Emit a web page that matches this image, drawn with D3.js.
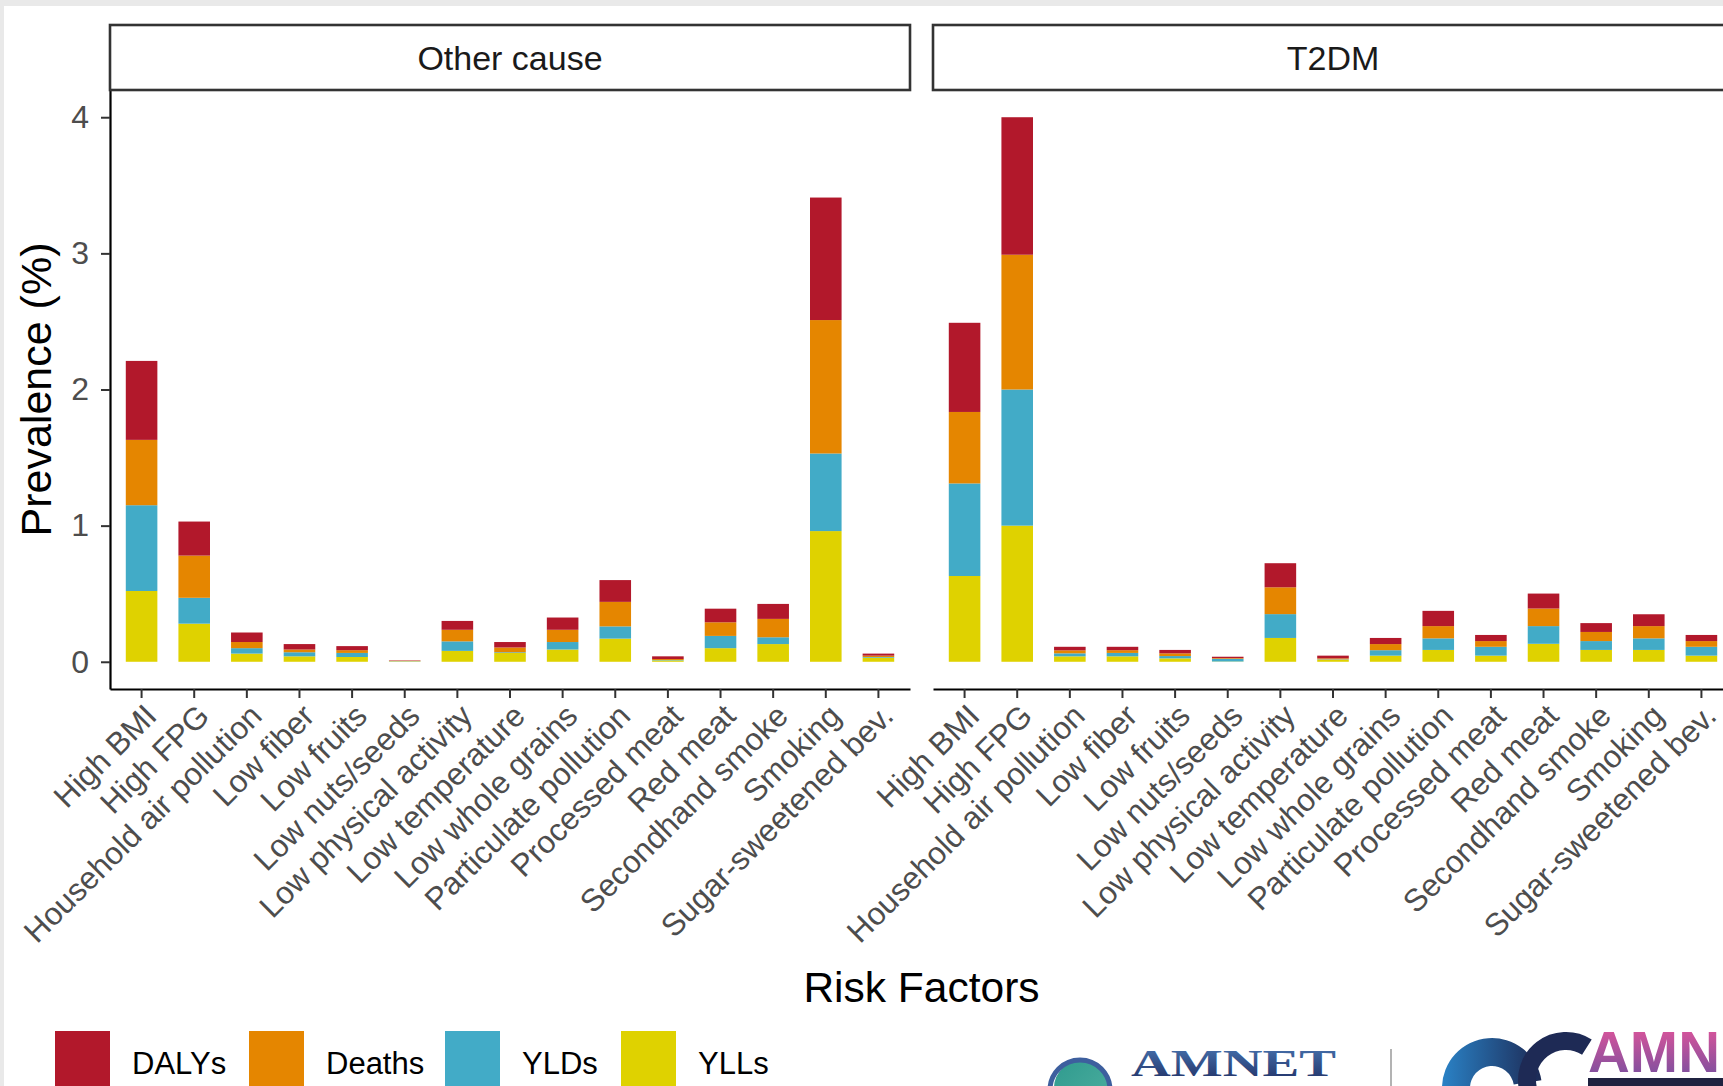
<!DOCTYPE html>
<html>
<head>
<meta charset="utf-8">
<script src="https://cdn.jsdelivr.net/npm/d3@7"></script>
<style>
  html, body { margin: 0; padding: 0; background: #fff; overflow: hidden; }
  text { font-family: "Liberation Sans", Arial, Helvetica, sans-serif; }
</style>
</head>
<body>
<svg id="chart" width="1723" height="1086"></svg>
<script>
// ---- data -----------------------------------------------------------------
const categories = [
  "High BMI", "High FPG", "Household air pollution", "Low fiber", "Low fruits",
  "Low nuts/seeds", "Low physical activity", "Low temperature", "Low whole grains",
  "Particulate pollution", "Processed meat", "Red meat", "Secondhand smoke",
  "Smoking", "Sugar-sweetened bev."
];
const facets = ["Other cause", "T2DM"];
const measures = ["DALYs", "Deaths", "YLDs", "YLLs"];          // legend order
const stackOrder = ["YLLs", "YLDs", "Deaths", "DALYs"];        // bottom to top
const measureColors = ["#B2182B", "#E58600", "#42ABC7", "#DFD200"];
const yTicks = [0, 1, 2, 3, 4];

// Other cause
const yllOther    = [0.52, 0.28, 0.06, 0.04, 0.035, 0.003, 0.08, 0.065, 0.09, 0.17, 0.01, 0.10, 0.13, 0.96, 0.03];
const yldOther    = [0.63, 0.19, 0.04, 0.03, 0.03, 0.002, 0.07, 0.005, 0.055, 0.09, 0.003, 0.09, 0.05, 0.57, 0.005];
const deathsOther = [0.48, 0.31, 0.045, 0.02, 0.02, 0.002, 0.085, 0.035, 0.09, 0.18, 0.007, 0.10, 0.135, 0.98, 0.01];
const dalysOther  = [0.58, 0.25, 0.07, 0.04, 0.03, 0.003, 0.065, 0.04, 0.09, 0.16, 0.02, 0.10, 0.11, 0.90, 0.015];

// T2DM
const yllT2dm    = [0.63, 1.00, 0.04, 0.04, 0.025, 0.002, 0.175, 0.015, 0.045, 0.087, 0.045, 0.132, 0.087, 0.087, 0.045];
const yldT2dm    = [0.68, 1.00, 0.022, 0.025, 0.017, 0.02, 0.175, 0.003, 0.04, 0.085, 0.065, 0.13, 0.065, 0.085, 0.065];
const deathsT2dm = [0.525, 0.99, 0.022, 0.02, 0.02, 0.005, 0.197, 0.007, 0.045, 0.09, 0.042, 0.129, 0.067, 0.09, 0.042];
const dalysT2dm  = [0.655, 1.01, 0.026, 0.025, 0.025, 0.01, 0.177, 0.02, 0.045, 0.112, 0.045, 0.11, 0.065, 0.087, 0.045];

// ---- layout ---------------------------------------------------------------
const W = 1723, H = 1086;
const stripTop = 25, panelTop = 90, panelBottom = 689;
const panelDefs = [
  { name: facets[0], x0: 110, x1: 910,  yll: yllOther, yld: yldOther, deaths: deathsOther, dalys: dalysOther, yAxis: true },
  { name: facets[1], x0: 933, x1: 1733, yll: yllT2dm,  yld: yldT2dm,  deaths: deathsT2dm,  dalys: dalysT2dm,  yAxis: false }
];

const svg = d3.select("#chart");

// page background
svg.append("rect").attr("width", W).attr("height", H).attr("fill", "#e9e9e9");
svg.append("rect").attr("x", 4).attr("y", 6).attr("width", W - 4).attr("height", H - 6).attr("fill", "#ffffff");

const color = d3.scaleOrdinal().domain(measures).range(measureColors);
const y = d3.scaleLinear().domain([-0.2, 4.2]).range([panelBottom, panelTop]);

panelDefs.forEach(p => {
  const rows = categories.map((c, i) => ({
    cat: c, YLLs: p.yll[i], YLDs: p.yld[i], Deaths: p.deaths[i], DALYs: p.dalys[i]
  }));
  const series = d3.stack().keys(stackOrder)(rows);

  const x = d3.scaleBand()
    .domain(categories)
    .range([p.x0, p.x1])
    .paddingInner(0.4)
    .paddingOuter(0.3);

  const g = svg.append("g");

  // bars
  g.selectAll("g.layer")
    .data(series)
    .join("g")
      .attr("class", "layer")
      .attr("fill", d => color(d.key))
    .selectAll("rect")
    .data(d => d)
    .join("rect")
      .attr("x", d => x(d.data.cat))
      .attr("width", x.bandwidth())
      .attr("y", d => y(d[1]))
      .attr("height", d => Math.max(0, y(d[0]) - y(d[1])));

  // x axis
  const xg = g.append("g")
    .attr("transform", `translate(0,${panelBottom})`)
    .call(d3.axisBottom(x).tickSize(9).tickSizeOuter(0));
  xg.select(".domain").attr("stroke", "#000").attr("stroke-width", 2.2);
  xg.selectAll(".tick line").attr("stroke", "#333").attr("stroke-width", 2);
  xg.selectAll(".tick text")
    .attr("fill", "#4d4d4d")
    .attr("font-size", 31.5)
    .attr("x", 0).attr("y", 0).attr("dy", "0.71em")
    .attr("text-anchor", "end")
    .attr("transform", "translate(1,13) rotate(-45)");

  // y axis (left panel only)
  if (p.yAxis) {
    const yg = g.append("g")
      .attr("transform", `translate(${p.x0},0)`)
      .call(d3.axisLeft(y).tickValues(yTicks).tickFormat(d3.format("d"))
        .tickSize(9).tickSizeOuter(0).tickPadding(12));
    yg.select(".domain").attr("stroke", "#000").attr("stroke-width", 2.2);
    yg.selectAll(".tick line").attr("stroke", "#333").attr("stroke-width", 2);
    yg.selectAll(".tick text").attr("fill", "#4d4d4d").attr("font-size", 32);
  }

  // facet strip
  g.append("rect")
    .attr("x", p.x0).attr("y", stripTop)
    .attr("width", p.x1 - p.x0).attr("height", panelTop - stripTop)
    .attr("fill", "#fff").attr("stroke", "#333").attr("stroke-width", 2.6);
  g.append("text")
    .attr("x", (p.x0 + p.x1) / 2).attr("y", (stripTop + panelTop) / 2)
    .attr("dy", "0.36em")
    .attr("text-anchor", "middle")
    .attr("font-size", 34)
    .attr("fill", "#1a1a1a")
    .text(p.name);
});

// axis titles
svg.append("text")
  .attr("transform", `translate(36,${(panelTop + panelBottom) / 2}) rotate(-90)`)
  .attr("text-anchor", "middle").attr("dy", "0.36em")
  .attr("font-size", 43).attr("fill", "#000")
  .text("Prevalence (%)");
svg.append("text")
  .attr("x", (panelDefs[0].x0 + panelDefs[1].x1) / 2).attr("y", 987)
  .attr("text-anchor", "middle").attr("dy", "0.36em")
  .attr("font-size", 42.5).attr("fill", "#000")
  .text("Risk Factors");

// legend
const legendX = [55, 249, 445, 621];
const legend = svg.append("g");
measures.forEach((m, i) => {
  legend.append("rect")
    .attr("x", legendX[i]).attr("y", 1031)
    .attr("width", 55).attr("height", 55)
    .attr("fill", color(m));
  legend.append("text")
    .attr("x", legendX[i] + 77).attr("y", 1063)
    .attr("dy", "0.36em")
    .attr("font-size", 31).attr("fill", "#000")
    .text(m);
});

// footer logos
const defs = svg.append("defs");
const g1 = defs.append("linearGradient").attr("id", "amnetText").attr("x1", 0).attr("y1", 0).attr("x2", 0).attr("y2", 1);
g1.append("stop").attr("offset", "0%").attr("stop-color", "#4a78b4");
g1.append("stop").attr("offset", "100%").attr("stop-color", "#1f2e63");
const g2 = defs.append("linearGradient").attr("id", "amnPink").attr("x1", 0).attr("y1", 0).attr("x2", 0).attr("y2", 1);
g2.append("stop").attr("offset", "0%").attr("stop-color", "#e8559a");
g2.append("stop").attr("offset", "100%").attr("stop-color", "#6f4f9f");
const g3 = defs.append("linearGradient").attr("id", "arcBlue").attr("x1", 0).attr("y1", 0).attr("x2", 1).attr("y2", 0);
g3.append("stop").attr("offset", "0%").attr("stop-color", "#2a82c6");
g3.append("stop").attr("offset", "100%").attr("stop-color", "#1d2a55");
const g4 = defs.append("linearGradient").attr("id", "globe").attr("x1", 0).attr("y1", 0).attr("x2", 1).attr("y2", 1);
g4.append("stop").attr("offset", "0%").attr("stop-color", "#2f9a8e");
g4.append("stop").attr("offset", "100%").attr("stop-color", "#4fb0a0");

const logo = svg.append("g");
logo.append("circle").attr("cx", 1082).attr("cy", 1088).attr("r", 28).attr("fill", "url(#globe)");
logo.append("circle").attr("cx", 1080).attr("cy", 1090).attr("r", 30)
  .attr("fill", "none").attr("stroke", "#3d5f9e").attr("stroke-width", 5);
logo.append("text")
  .attr("x", 1131).attr("y", 1076)
  .style("font-family", "'Liberation Serif', 'DejaVu Serif', 'Times New Roman', serif")
  .attr("font-weight", "bold").attr("font-size", 38)
  .attr("fill", "url(#amnetText)")
  .attr("textLength", 205).attr("lengthAdjust", "spacingAndGlyphs")
  .text("AMNET");
logo.append("line").attr("x1", 1391).attr("x2", 1391).attr("y1", 1049).attr("y2", 1086)
  .attr("stroke", "#9a9a9a").attr("stroke-width", 1.5);

const arc = d3.arc();
logo.append("path")
  .attr("transform", "translate(1492,1088)")
  .attr("d", arc({ innerRadius: 22, outerRadius: 50, startAngle: -Math.PI / 2, endAngle: Math.PI * 0.45 }))
  .attr("fill", "url(#arcBlue)");
logo.append("path")
  .attr("transform", "translate(1566,1080)")
  .attr("d", arc({ innerRadius: 30, outerRadius: 48, startAngle: -Math.PI * 0.6, endAngle: Math.PI * 0.18 }))
  .attr("fill", "#1e2a55");
logo.append("text")
  .attr("x", 1588).attr("y", 1072)
  .attr("font-weight", "bold").attr("font-size", 57)
  .attr("fill", "url(#amnPink)")
  .attr("textLength", 132).attr("lengthAdjust", "spacingAndGlyphs")
  .text("AMN");
logo.append("rect").attr("x", 1588).attr("y", 1078).attr("width", 140).attr("height", 10).attr("fill", "#1f2240");
</script>
</body>
</html>
